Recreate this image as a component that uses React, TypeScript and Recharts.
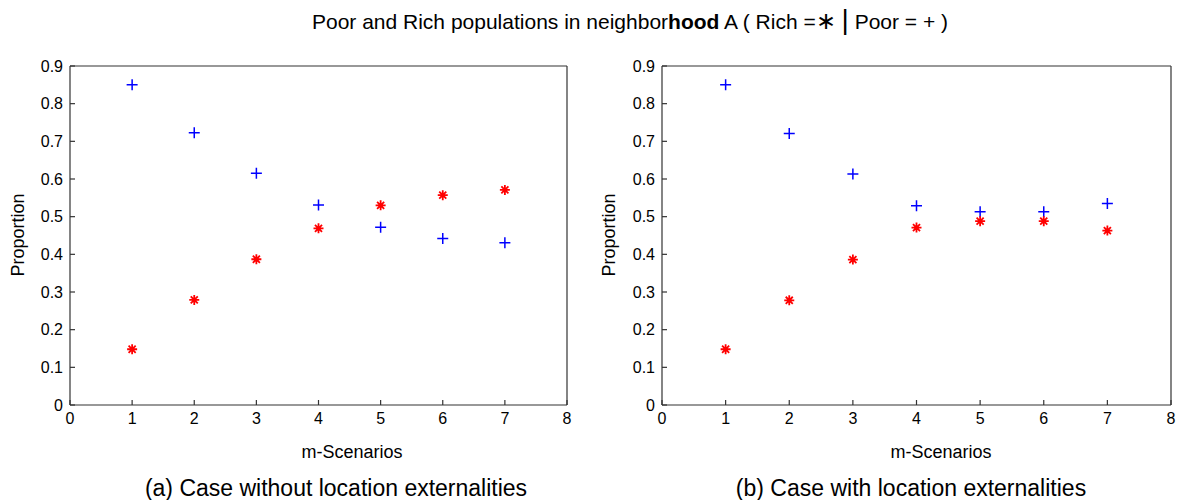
import { ScatterChart, Scatter, XAxis, YAxis } from 'recharts';

// m-scenarios on the x axis
const scenarios = [1, 2, 3, 4, 5, 6, 7];

// (a) case without location externalities
const poorWithout = [0.85, 0.723, 0.615, 0.531, 0.472, 0.442, 0.431];
const richWithout = [0.148, 0.279, 0.387, 0.469, 0.53, 0.557, 0.571];

// (b) case with location externalities
const poorWith = [0.85, 0.721, 0.613, 0.529, 0.513, 0.513, 0.535];
const richWith = [0.148, 0.278, 0.386, 0.471, 0.488, 0.488, 0.463];

const xTicks = [0, 1, 2, 3, 4, 5, 6, 7, 8];
const yTicks = [0, 0.1, 0.2, 0.3, 0.4, 0.5, 0.6, 0.7, 0.8, 0.9];

const FONT = '"Liberation Sans", Arial, Helvetica, sans-serif';
const AXIS = '#333';

const toPoints = (ys: number[]) => scenarios.map((x, i) => ({ x, y: ys[i] }));

function PlusMark(props: any) {
  const { cx, cy } = props;
  const r = 5.5;
  return (
    <path
      d={`M${cx - r},${cy}H${cx + r}M${cx},${cy - r}V${cy + r}`}
      stroke="#0000ff"
      strokeWidth={1.5}
      fill="none"
    />
  );
}

function StarMark(props: any) {
  const { cx, cy } = props;
  const r = 5;
  const d = r * 0.707;
  return (
    <path
      d={`M${cx - r},${cy}H${cx + r}M${cx},${cy - r}V${cy + r}M${cx - d},${cy - d}L${cx + d},${cy + d}M${cx - d},${cy + d}L${cx + d},${cy - d}`}
      stroke="#ff0000"
      strokeWidth={1.8}
      fill="none"
    />
  );
}

const tickStyle = { fill: '#000', fontSize: 16, fontFamily: FONT };
const blank = () => '';
const fmtY = (v: number) => (v === 0 ? '0' : v.toFixed(1));

interface PanelProps {
  left: number;
  marginLeft: number;
  marginRight: number;
  poor: number[];
  rich: number[];
}

function Panel({ left, marginLeft, marginRight, poor, rich }: PanelProps) {
  return (
    <div style={{ position: 'absolute', left, top: 0 }}>
      <ScatterChart
        width={590}
        height={500}
        margin={{ top: 65, right: marginRight, bottom: 65, left: marginLeft }}
      >
        <XAxis
          xAxisId="bottom"
          dataKey="x"
          type="number"
          domain={[0, 8]}
          ticks={xTicks}
          interval={0}
          height={30}
          stroke={AXIS}
          strokeWidth={1.2}
          tickSize={-5}
          tickMargin={13}
          tick={tickStyle}
        />
        <XAxis
          xAxisId="top"
          orientation="top"
          type="number"
          domain={[0, 8]}
          ticks={xTicks}
          interval={0}
          height={1}
          stroke={AXIS}
          strokeWidth={1.2}
          tickSize={-5}
          tickFormatter={blank}
        />
        <YAxis
          yAxisId="left"
          dataKey="y"
          type="number"
          domain={[0, 0.9]}
          ticks={yTicks}
          interval={0}
          width={40}
          stroke={AXIS}
          strokeWidth={1.2}
          tickSize={-5}
          tickMargin={12}
          tick={tickStyle}
          tickFormatter={fmtY}
        />
        <YAxis
          yAxisId="right"
          orientation="right"
          type="number"
          domain={[0, 0.9]}
          ticks={yTicks}
          interval={0}
          width={1}
          stroke={AXIS}
          strokeWidth={1.2}
          tickSize={-5}
          tickFormatter={blank}
        />
        <Scatter
          xAxisId="bottom"
          yAxisId="left"
          data={toPoints(poor)}
          shape={PlusMark}
          isAnimationActive={false}
        />
        <Scatter
          xAxisId="bottom"
          yAxisId="left"
          data={toPoints(rich)}
          shape={StarMark}
          isAnimationActive={false}
        />
      </ScatterChart>
    </div>
  );
}

const textBase: React.CSSProperties = {
  position: 'absolute',
  fontFamily: FONT,
  color: '#000',
  whiteSpace: 'nowrap',
  lineHeight: 1,
};

function Text({ x, y, size, rotate, children }: any) {
  return (
    <div
      style={{
        ...textBase,
        left: x,
        top: y,
        fontSize: size,
        transform: `translate(-50%, -50%)${rotate ? ' rotate(-90deg)' : ''}`,
      }}
    >
      {children}
    </div>
  );
}

export default function App() {
  return (
    <div
      style={{
        position: 'absolute',
        left: 0,
        top: 0,
        width: 1180,
        height: 500,
        background: '#fff',
        overflow: 'hidden',
      }}
    >
      <Panel left={0} marginLeft={30} marginRight={22} poor={poorWithout} rich={richWithout} />
      <Panel left={590} marginLeft={32} marginRight={8} poor={poorWith} rich={richWith} />

      <Text x={630} y={20} size={21}>
        Poor and Rich populations in neighbor<span style={{ fontWeight: 'bold' }}>hood</span>
        {'  '}A ( Rich =<span style={{ fontSize: 24 }}>∗</span>{' '}
        <span style={{ fontSize: 28 }}>|</span> Poor = + )
      </Text>

      <Text x={18} y={235} size={18} rotate>
        Proportion
      </Text>
      <Text x={609} y={235} size={18} rotate>
        Proportion
      </Text>

      <Text x={352} y={452} size={18}>
        m-Scenarios
      </Text>
      <Text x={941} y={452} size={18}>
        m-Scenarios
      </Text>

      <Text x={336} y={488} size={23}>
        (a) Case without location externalities
      </Text>
      <Text x={911} y={488} size={23}>
        (b) Case with location externalities
      </Text>
    </div>
  );
}
